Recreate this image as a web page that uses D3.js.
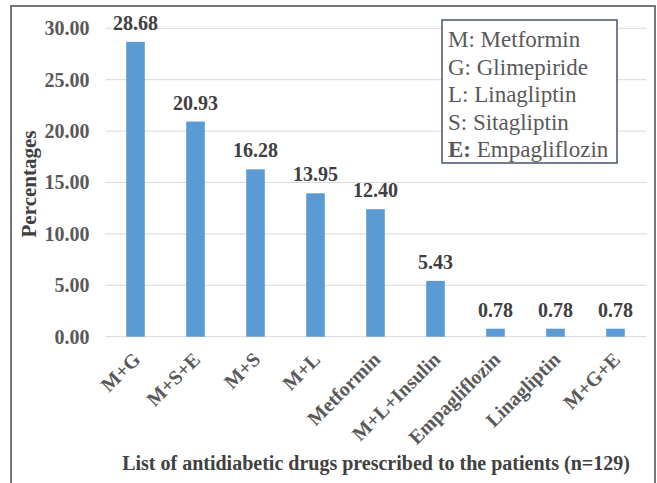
<!DOCTYPE html>
<html><head><meta charset="utf-8">
<script src="https://cdn.jsdelivr.net/npm/d3@7"></script>
<style>body{margin:0;background:#fff}svg{display:block}</style>
</head><body>
<svg id="c" width="657" height="483"></svg>
<script>
const categories = ["M+G","M+S+E","M+S","M+L","Metformin","M+L+Insulin","Empagliflozin","Linagliptin","M+G+E"];
const values = [28.68,20.93,16.28,13.95,12.40,5.43,0.78,0.78,0.78];
const yTicks = [0,5,10,15,20,25,30];
const legendItems = [["M:"," Metformin"],["G:"," Glimepiride"],["L:"," Linagliptin"],["S:"," Sitagliptin"],["E:"," Empagliflozin"]];
const xTitle = "List of antidiabetic drugs prescribed to the patients (n=129)";
const yTitle = "Percentages";

(function(){
const svg = d3.select("#c");
const font = "'Liberation Serif','Times New Roman',serif";
const pL = 105.5, pR = 645.5, pT = 28.3, pB = 336.7;

svg.append("rect").attr("x",11).attr("y",6).attr("width",644).attr("height",490)
  .attr("fill","#fff").attr("stroke","#4a4a4a").attr("stroke-width",1.5);

const x = d3.scaleBand().domain(categories).range([pL,pR]).paddingInner(0.69).paddingOuter(0.345);
const y = d3.scaleLinear().domain([0,30]).range([pB,pT]);

svg.append("g").selectAll("line").data(yTicks).join("line")
  .attr("x1",pL).attr("x2",pR+1).attr("y1",d=>y(d)).attr("y2",d=>y(d))
  .attr("stroke","#d9d9d9").attr("stroke-width",1);

const ya = svg.append("g").attr("transform",`translate(${pL},0)`)
  .call(d3.axisLeft(y).tickValues(yTicks).tickFormat(d3.format(".2f")).tickSize(0).tickPadding(16));
ya.select(".domain").remove();
ya.selectAll("text").attr("font-family",font).attr("font-weight","bold").attr("font-size",20)
  .attr("fill","#595959");

svg.append("g").selectAll("rect").data(values).join("rect")
  .attr("x",(d,i)=>x(categories[i])).attr("width",x.bandwidth())
  .attr("y",d=>y(d)).attr("height",d=>pB-y(d)).attr("fill","#5b9bd5");

svg.append("g").selectAll("text").data(values).join("text")
  .attr("x",(d,i)=>x(categories[i])+x.bandwidth()/2).attr("y",d=>y(d)-12)
  .attr("text-anchor","middle").attr("font-family",font).attr("font-weight","bold")
  .attr("font-size",20).attr("fill","#404040").text(d=>d3.format(".2f")(d));

const xa = svg.append("g").attr("transform",`translate(0,${pB})`)
  .call(d3.axisBottom(x).tickSize(0).tickPadding(0));
xa.select(".domain").remove();
xa.selectAll("text").attr("font-family",font).attr("font-weight","bold").attr("font-size",20)
  .attr("fill","#595959").attr("text-anchor","end").attr("dy",0)
  .attr("transform","translate(6,24) rotate(-45)");

svg.append("text").attr("x",376).attr("y",470).attr("text-anchor","middle")
  .attr("font-family",font).attr("font-weight","bold").attr("font-size",20).attr("fill","#404040").text(xTitle);
svg.append("text").attr("transform","translate(36,184) rotate(-90)").attr("text-anchor","middle")
  .attr("font-family",font).attr("font-weight","bold").attr("font-size",21).attr("fill","#404040").text(yTitle);

const lg = svg.append("g");
lg.append("rect").attr("x",442).attr("y",20).attr("width",175).attr("height",143)
  .attr("fill","#fff").attr("stroke","#44546a").attr("stroke-width",1.5);
lg.selectAll("text").data(legendItems).join("text")
  .attr("x",448).attr("y",(d,i)=>47+i*27.5).attr("font-family",font).attr("font-size",23).attr("fill","#595959")
  .each(function(d,i){
    const t=d3.select(this);
    t.append("tspan").attr("font-weight",i===4?"bold":"normal").text(d[0]);
    t.append("tspan").text(d[1]);
  });
})();
</script>
</body></html>
